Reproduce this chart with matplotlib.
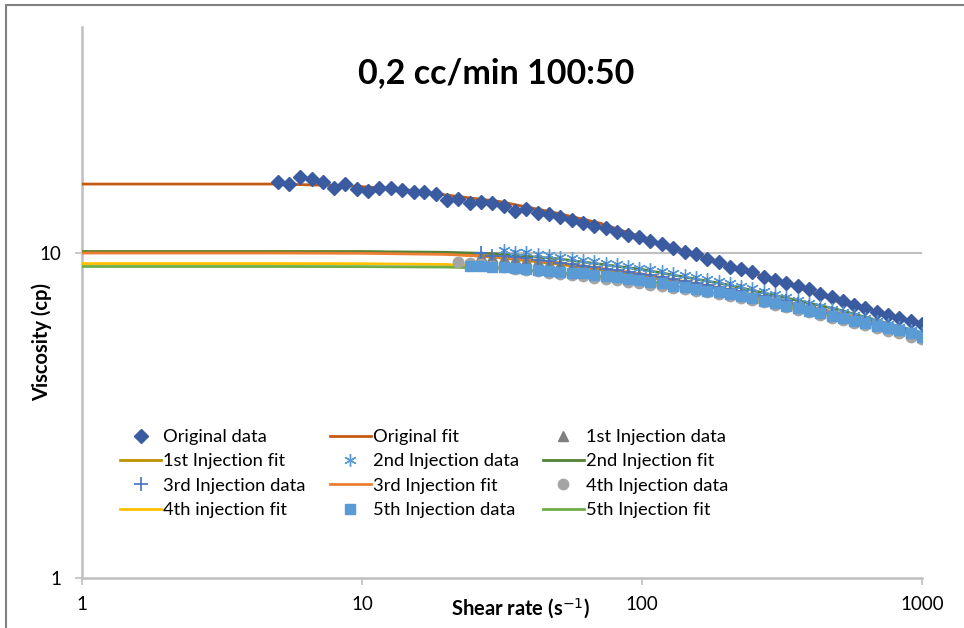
import matplotlib.pyplot as plt
from matplotlib.patches import Rectangle

plt.rcParams['font.family'] = ['Lato', 'DejaVu Sans']

# shear rate grid used by the rheometer (s-1)
shear_rate = [5.00, 5.49, 6.02, 6.61, 7.25, 7.96, 8.73, 9.58, 10.5, 11.5,
              12.7, 13.9, 15.3, 16.7, 18.4, 20.2, 22.1, 24.3, 26.6, 29.2,
              32.1, 35.2, 38.6, 42.4, 46.5, 51.1, 56.1, 61.5, 67.5, 74.1,
              81.3, 89.2, 97.9, 107, 118, 129, 142, 156, 171, 188,
              206, 226, 248, 272, 299, 328, 360, 395, 433, 476,
              522, 572, 628, 690, 757, 830, 911, 1000]

original_data = [16.5, 16.3, 17.1, 16.9, 16.5, 15.8, 16.3, 15.7, 15.5, 15.8,
                 15.8, 15.6, 15.4, 15.4, 15.2, 14.6, 14.7, 14.3, 14.4, 14.3,
                 13.95, 13.5, 13.7, 13.3, 13.15, 12.88, 12.64, 12.35, 12.11, 11.91,
                 11.63, 11.38, 11.22, 10.89, 10.64, 10.34, 10.09, 9.91, 9.58, 9.40,
                 9.07, 8.93, 8.72, 8.46, 8.26, 8.10, 7.91, 7.73, 7.46, 7.31,
                 7.13, 6.92, 6.76, 6.60, 6.45, 6.30, 6.18, 6.03]

inj1_data = [9.78, 9.72, 9.66, 9.58, 9.5, 9.42, 9.33, 9.24, 9.15, 9.05,
             8.95, 8.85, 8.75, 8.65, 8.55, 8.45, 8.35, 8.24, 8.13, 8.02,
             7.91, 7.79, 7.67, 7.55, 7.42, 7.29, 7.16, 7.03, 6.89, 6.75,
             6.62, 6.49, 6.36, 6.23, 6.1, 5.98, 5.86, 5.74, 5.63, 5.52]
inj2_data = [10.2, 10.1, 10.05, 9.9, 9.85, 9.7, 9.62, 9.5, 9.42, 9.3,
             9.22, 9.1, 9.02, 8.9, 8.8, 8.7, 8.56, 8.45, 8.32, 8.21,
             8.06, 7.93, 7.78, 7.63, 7.47, 7.33, 7.16, 7.03, 6.87, 6.73,
             6.58, 6.45, 6.3, 6.18, 6.04, 5.92, 5.78, 5.66]
inj3_data = [10.0, 9.81, 9.8, 9.7, 9.62, 9.52, 9.43, 9.34, 9.24, 9.14,
             9.04, 8.94, 8.84, 8.74, 8.64, 8.54, 8.44, 8.33, 8.22, 8.11,
             8.0, 7.88, 7.76, 7.63, 7.5, 7.37, 7.24, 7.1, 6.96, 6.82,
             6.68, 6.55, 6.42, 6.29, 6.16, 6.03, 5.91, 5.79, 5.67, 5.56]
inj4_data = [9.36, 9.30, 9.22, 9.12, 9.03, 8.94, 8.86, 8.78, 8.70, 8.62,
             8.55, 8.48, 8.40, 8.33, 8.25, 8.17, 8.10, 8.00, 7.93, 7.83,
             7.74, 7.65, 7.56, 7.46, 7.36, 7.26, 7.16, 7.05, 6.94, 6.81,
             6.69, 6.57, 6.45, 6.33, 6.21, 6.10, 5.99, 5.87, 5.76, 5.66,
             5.53, 5.42]
inj5_data = [9.14, 9.12, 9.07, 9.03, 8.97, 8.91, 8.86, 8.82, 8.72, 8.70,
             8.66, 8.56, 8.50, 8.44, 8.32, 8.26, 8.13, 8.07, 7.93, 7.84,
             7.75, 7.66, 7.57, 7.46, 7.37, 7.26, 7.13, 7.03, 6.88, 6.76,
             6.65, 6.52, 6.41, 6.30, 6.19, 6.08, 5.97, 5.89, 5.80, 5.66,
             5.53]

# fitted curves, read at a few shear rates
orig_fit_rate = [1, 3, 5, 9, 14, 21, 31, 47, 71, 107, 150, 200, 300, 500, 700, 1000]
orig_fit = [16.3, 16.3, 16.3, 16.1, 15.7, 15.0, 14.4, 13.4, 12.35, 10.96,
            10.0, 9.2, 8.25, 7.1, 6.6, 6.05]

fit_rate = [1, 5, 10, 20, 30, 50, 100, 200, 500, 1000]
inj1_fit = [10.1, 10.1, 10.08, 9.95, 9.7, 9.25, 8.5, 7.65, 6.5, 5.6]
inj2_fit = [10.1, 10.1, 10.1, 10.05, 9.95, 9.6, 8.9, 8.0, 6.7, 5.68]
inj3_fit = [10.0, 10.0, 9.98, 9.9, 9.75, 9.35, 8.62, 7.75, 6.55, 5.58]
inj4_fit = [9.28, 9.28, 9.27, 9.22, 9.05, 8.65, 8.1, 7.35, 6.33, 5.45]
inj5_fit = [9.09, 9.09, 9.08, 9.05, 8.98, 8.72, 8.25, 7.45, 6.4, 5.55]

labels = ['Original data', 'Original fit', '1st Injection data',
          '1st Injection fit', '2nd Injection data', '2nd Injection fit',
          '3rd Injection data', '3rd Injection fit', '4th Injection data',
          '4th injection fit', '5th Injection data', '5th Injection fit']

fig = plt.figure(figsize=(9.64, 6.28), dpi=100)
ax = fig.add_axes([82 / 964, 1 - 578 / 628, 840 / 964, 551 / 628])

n = len(shear_rate)
h = []
h += ax.plot(shear_rate, original_data, 'D', color='#3A5BA0', ms=7.5, zorder=4)
h += ax.plot(orig_fit_rate, orig_fit, '-', color='#C55A11', lw=2, zorder=3)
h += ax.plot(shear_rate[n - len(inj1_data):], inj1_data, '^', color='#7F7F7F', ms=7, zorder=4)
h += ax.plot(fit_rate, inj1_fit, '-', color='#BF9000', lw=2, zorder=3)
h += ax.plot(shear_rate[n - len(inj2_data):], inj2_data, marker=(6, 2, 0), ls='none',
             color='#5B9BD5', ms=9, mew=1, zorder=4)
h += ax.plot(fit_rate, inj2_fit, '-', color='#548235', lw=2, zorder=3)
h += ax.plot(shear_rate[n - len(inj3_data):], inj3_data, '+', color='#4472C4', ms=10, mew=1.2, zorder=4)
h += ax.plot(fit_rate, inj3_fit, '-', color='#ED7D31', lw=2, zorder=3)
h += ax.plot(shear_rate[n - len(inj4_data):], inj4_data, 'o', color='#A5A5A5', ms=7.5, zorder=4)
h += ax.plot(fit_rate, inj4_fit, '-', color='#FFC000', lw=2, zorder=3)
h += ax.plot(shear_rate[n - len(inj5_data):], inj5_data, 's', color='#5B9BD5', ms=7.5, zorder=4)
h += ax.plot(fit_rate, inj5_fit, '-', color='#70AD47', lw=2, zorder=3)

ax.set_xscale('log')
ax.set_yscale('log')
ax.set_xlim(1, 1000)
ax.set_ylim(1, 49.6)
ax.set_xticks([1, 10, 100, 1000])
ax.set_xticklabels(['1', '10', '100', '1000'])
ax.set_yticks([1, 10])
ax.set_yticklabels(['1', '10'])
ax.minorticks_off()
ax.tick_params(axis='both', length=5, width=1.2, color='#BFBFBF', labelsize=13.5)
ax.tick_params(axis='x', pad=8)
ax.tick_params(axis='y', pad=10)
ax.axhline(10, color='#BFBFBF', lw=1.5, zorder=1)

for side in ['top', 'right']:
    ax.spines[side].set_visible(False)
for side in ['left', 'bottom']:
    ax.spines[side].set_color('#BFBFBF')
    ax.spines[side].set_linewidth(1.8)

fig.text(0.5145, 0.884, '0,2 cc/min 100:50', fontsize=24.5, fontweight='bold',
         ha='center', va='center')
fig.text(521 / 964, 1 - 609 / 628, 'Shear rate (s$^{-1}$)', fontsize=14.5,
         fontweight='bold', ha='center', va='center')
fig.text(42 / 964, 1 - 342 / 628, 'Viscosity (cp)', fontsize=14.5,
         fontweight='bold', ha='center', va='center', rotation=90)

# legend laid out row by row, like the spreadsheet one
order = [0, 3, 6, 9, 1, 4, 7, 10, 2, 5, 8, 11]
fig.legend([h[i] for i in order], [labels[i] for i in order], ncol=3,
           loc='upper left', bbox_to_anchor=(120 / 964, 1 - 429 / 628),
           frameon=False, fontsize=13.2, handlelength=2.24, handletextpad=0.12,
           columnspacing=1.3, labelspacing=0.46, borderpad=0, borderaxespad=0)

fig.patches.append(Rectangle((6 / 964, -0.1), 1.2, 1 - 5 / 628 + 0.1,
                             transform=fig.transFigure, fill=False,
                             edgecolor='#808080', lw=1.5))

fig.savefig('out.png', dpi=100)
